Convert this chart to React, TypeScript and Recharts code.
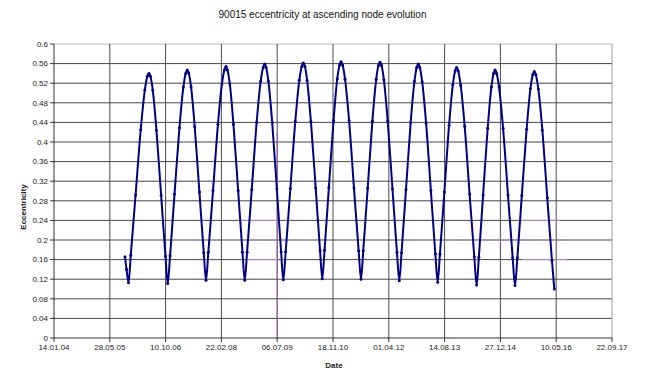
import { LineChart, Line, XAxis, YAxis, ReferenceLine } from 'recharts';

// x values are day serials (38000 = 14.01.04), one array per oscillation
const cycle01 = [
  [38636, 0.166], [38650, 0.14], [38668, 0.113], [38688, 0.169], [38731, 0.292], [38777, 0.425],
  [38814, 0.506], [38836, 0.534], [38851, 0.54], [38864, 0.534], [38885, 0.506], [38918, 0.424],
  [38960, 0.291], [38999, 0.167],
];
const cycle02 = [
  [39019, 0.111], [39040, 0.168], [39080, 0.294], [39124, 0.429], [39159, 0.512], [39180, 0.54],
  [39194, 0.547], [39207, 0.541], [39228, 0.513], [39261, 0.431], [39303, 0.298], [39342, 0.174],
];
const cycle03 = [
  [39362, 0.118], [39383, 0.175], [39425, 0.301], [39469, 0.436], [39505, 0.519], [39527, 0.547],
  [39541, 0.554], [39554, 0.547], [39575, 0.519], [39608, 0.436], [39650, 0.301], [39689, 0.175],
];
const cycle04 = [
  [39709, 0.118], [39730, 0.175], [39772, 0.303], [39816, 0.44], [39852, 0.524], [39874, 0.552],
  [39888, 0.559], [39901, 0.552], [39921, 0.524], [39955, 0.44], [39997, 0.304], [40035, 0.176],
];
const cycle05 = [
  [40055, 0.119], [40076, 0.176], [40118, 0.305], [40162, 0.442], [40198, 0.526], [40220, 0.554],
  [40234, 0.561], [40248, 0.554], [40268, 0.526], [40302, 0.442], [40345, 0.306], [40384, 0.178],
];
const cycle06 = [
  [40404, 0.121], [40424, 0.179], [40463, 0.307], [40505, 0.444], [40538, 0.529], [40559, 0.557],
  [40572, 0.564], [40586, 0.557], [40608, 0.528], [40644, 0.444], [40688, 0.306], [40730, 0.178],
];
const cycle07 = [
  [40751, 0.12], [40771, 0.178], [40811, 0.306], [40853, 0.443], [40887, 0.528], [40907, 0.556],
  [40921, 0.563], [40935, 0.556], [40956, 0.527], [40990, 0.443], [41033, 0.304], [41073, 0.175],
];
const cycle08 = [
  [41094, 0.117], [41114, 0.174], [41154, 0.303], [41196, 0.44], [41230, 0.524], [41250, 0.552],
  [41264, 0.559], [41278, 0.552], [41299, 0.523], [41334, 0.439], [41377, 0.301], [41417, 0.172],
];
const cycle09 = [
  [41438, 0.114], [41458, 0.171], [41498, 0.298], [41540, 0.434], [41574, 0.517], [41594, 0.545],
  [41608, 0.552], [41622, 0.545], [41644, 0.516], [41680, 0.432], [41724, 0.294], [41766, 0.166],
];
const cycle10 = [
  [41787, 0.108], [41807, 0.165], [41845, 0.292], [41886, 0.428], [41919, 0.512], [41939, 0.54],
  [41952, 0.547], [41966, 0.54], [41988, 0.512], [42024, 0.428], [42068, 0.292], [42110, 0.164],
];
const cycle11 = [
  [42131, 0.107], [42152, 0.164], [42192, 0.291], [42235, 0.426], [42269, 0.509], [42290, 0.537],
  [42304, 0.544], [42318, 0.537], [42340, 0.508], [42376, 0.424], [42420, 0.286], [42462, 0.158],
  [42483, 0.1],
];

const xTicks = [38000, 38500, 39000, 39500, 40000, 40500, 41000, 41500, 42000, 42500, 43000];
const xTickLabels = [
  '14.01.04', '28.05.05', '10.10.06', '22.02.08', '06.07.09', '18.11.10',
  '01.04.12', '14.08.13', '27.12.14', '10.05.16', '22.09.17',
];
const yTicks = [0, 0.04, 0.08, 0.12, 0.16, 0.2, 0.24, 0.28, 0.32, 0.36, 0.4, 0.44, 0.48, 0.52, 0.56, 0.6];

// faint purple leftovers seen on some grid segments
const purpleH = [
  { y: 0.24, from: 39667, to: 40000 },
  { y: 0.2, from: 39667, to: 40000 },
  { y: 0.16, from: 39727, to: 40000 },
  { y: 0.24, from: 42194, to: 42534 },
  { y: 0.2, from: 41611, to: 42597 },
  { y: 0.16, from: 42194, to: 42597 },
];

const data = [
  ...cycle01, ...cycle02, ...cycle03, ...cycle04, ...cycle05, ...cycle06,
  ...cycle07, ...cycle08, ...cycle09, ...cycle10, ...cycle11,
].map(([day, ecc]) => ({ day, ecc }));

const font = "'Liberation Sans', Arial, sans-serif";
const tickStyle = { fill: '#222', fontSize: 8, fontFamily: font };

export default function App() {
  return (
    <div style={{ position: 'absolute', left: 0, top: 0, width: 645, height: 377, background: '#fff', fontFamily: font }}>
      <div style={{ position: 'absolute', left: 0, width: 645, top: 9, textAlign: 'center', fontSize: 10, color: '#111' }}>
        90015 eccentricity at ascending node evolution
      </div>
      <div
        style={{
          position: 'absolute', left: 23, top: 207, fontSize: 8, fontWeight: 'bold', color: '#222',
          transform: 'translate(-50%, -50%) rotate(-90deg)', whiteSpace: 'nowrap',
        }}
      >
        Eccentricity
      </div>
      <div style={{ position: 'absolute', left: 334, top: 365, transform: 'translate(-50%, -50%)', fontSize: 8, fontWeight: 'bold', color: '#222' }}>
        Date
      </div>
      <LineChart width={645} height={377} data={data} margin={{ top: 44, right: 33, bottom: 9, left: 14 }}>
        <XAxis
          dataKey="day"
          type="number"
          domain={[38000, 43000]}
          ticks={xTicks}
          tickFormatter={(v: number) => xTickLabels[xTicks.indexOf(v)]}
          tick={tickStyle}
          tickSize={4}
          height={30}
          axisLine={{ stroke: '#333' }}
          tickLine={{ stroke: '#333' }}
          interval={0}
        />
        <YAxis
          type="number"
          domain={[0, 0.6]}
          ticks={yTicks}
          tickFormatter={(v: number) => String(parseFloat(v.toFixed(2)))}
          tick={tickStyle}
          tickSize={4}
          width={40}
          axisLine={{ stroke: '#333' }}
          tickLine={{ stroke: '#333' }}
          interval={0}
        />
        {yTicks.slice(1).map((y) => (
          <ReferenceLine key={'h' + y} y={y} stroke={y === 0.6 ? '#b8b8b8' : '#464646'} strokeWidth={1} />
        ))}
        {xTicks.slice(1).map((x) => (
          <ReferenceLine key={'v' + x} x={x} stroke={x === 43000 ? '#a0a0a0' : '#4a4a4a'} strokeWidth={1} />
        ))}
        <ReferenceLine segment={[{ x: 40000, y: 0 }, { x: 40000, y: 0.42 }]} stroke="#9a5aa8" strokeWidth={1} />
        {purpleH.map((p, i) => (
          <ReferenceLine key={'p' + i} segment={[{ x: p.from, y: p.y }, { x: p.to, y: p.y }]} stroke="#b58cc4" strokeWidth={1} />
        ))}
        <Line
          type="monotone"
          dataKey="ecc"
          stroke="#000080"
          strokeWidth={2}
          dot={{ r: 1.5, fill: '#000080', stroke: 'none' }}
          isAnimationActive={false}
        />
      </LineChart>
    </div>
  );
}
